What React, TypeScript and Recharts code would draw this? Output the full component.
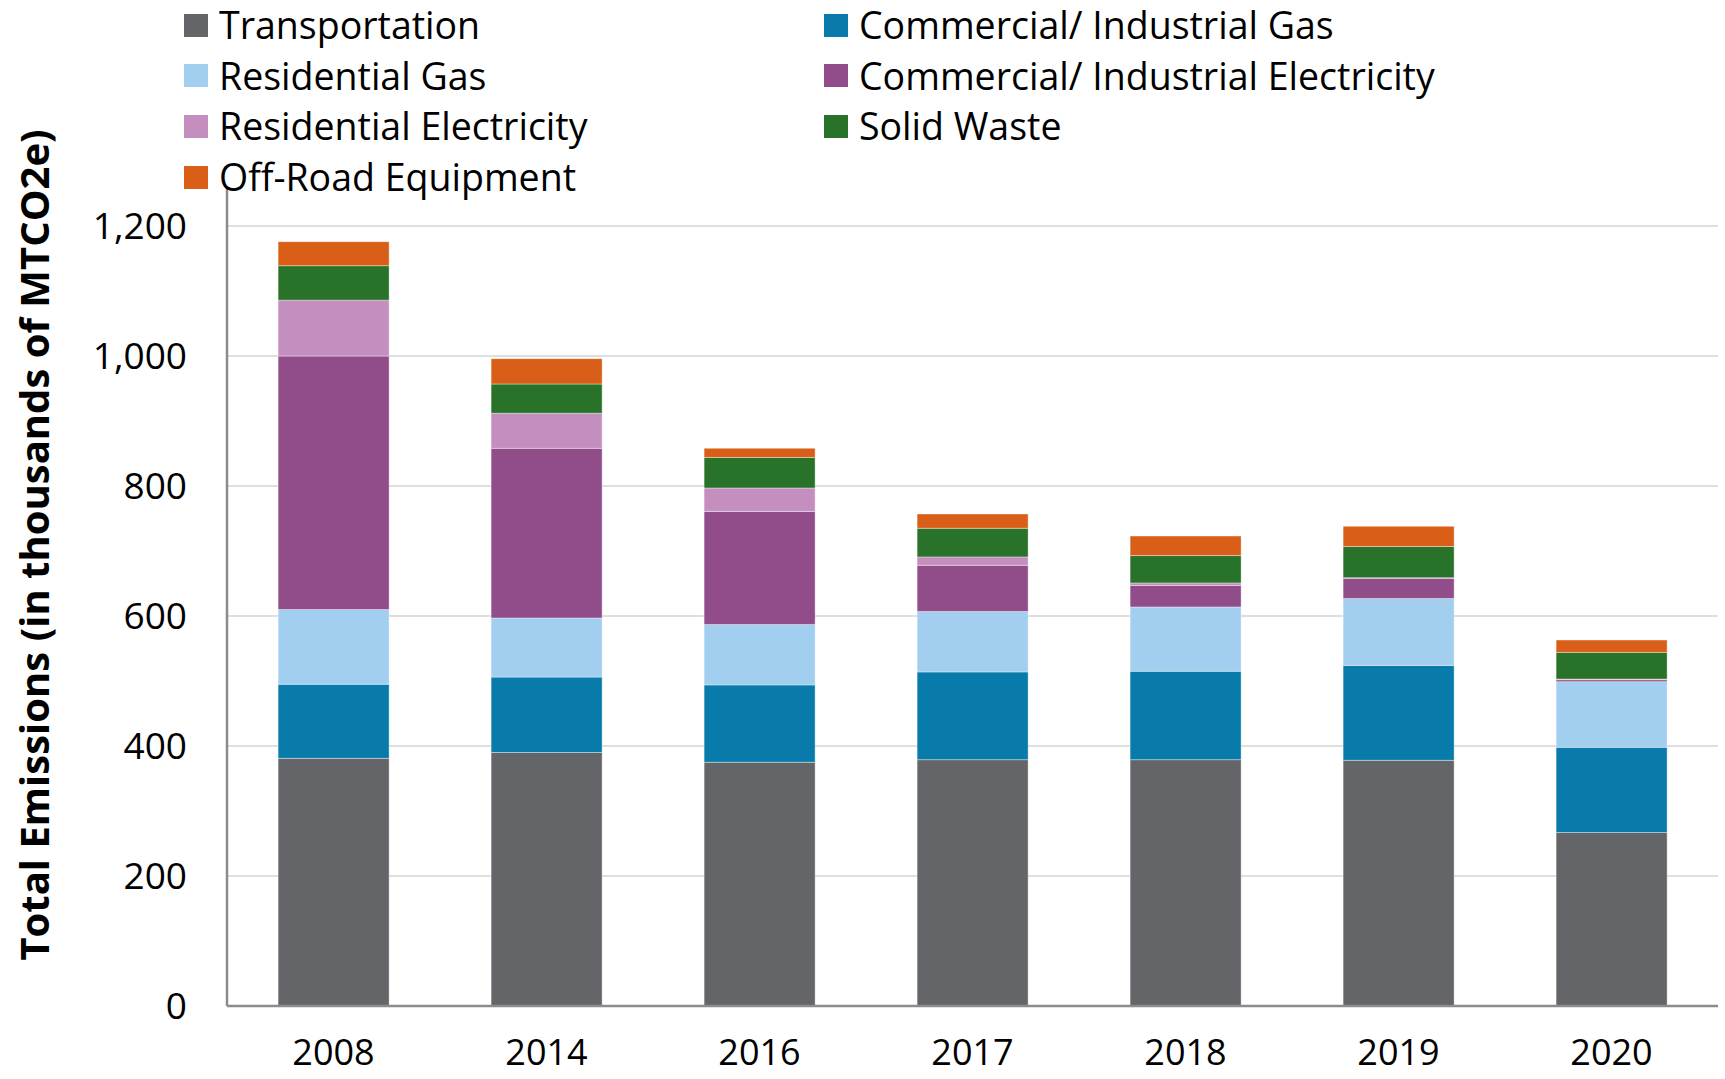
import React from 'react';
import { BarChart, Bar, XAxis, YAxis, CartesianGrid } from 'recharts';

const years = ['2008', '2014', '2016', '2017', '2018', '2019', '2020'];

const transportation = [381, 390, 375, 379, 379, 378, 267];
const commercialGas = [114, 116, 119, 135, 136, 146, 131];
const residentialGas = [115, 91, 93, 93, 99, 103, 101];
const commercialElec = [390, 261, 174, 71, 33, 31, 3];
const residentialElec = [86, 54, 36, 13, 4, 1, 1];
const solidWaste = [53, 45, 47, 44, 42, 48, 41];
const offRoad = [37, 39, 14, 22, 30, 31, 19];

const yTicks = [0, 200, 400, 600, 800, 1000, 1200];
const Y_MAX = 1257;

const series = [
  { key: 'transportation', name: 'Transportation', color: '#646569', values: transportation },
  { key: 'commercialGas', name: 'Commercial/ Industrial Gas', color: '#087BAB', values: commercialGas },
  { key: 'residentialGas', name: 'Residential Gas', color: '#A2CEF0', values: residentialGas },
  { key: 'commercialElec', name: 'Commercial/ Industrial Electricity', color: '#904D8A', values: commercialElec },
  { key: 'residentialElec', name: 'Residential Electricity', color: '#C48EBF', values: residentialElec },
  { key: 'solidWaste', name: 'Solid Waste', color: '#287229', values: solidWaste },
  { key: 'offRoad', name: 'Off-Road Equipment', color: '#D95F18', values: offRoad },
];

const data = years.map((year, i) => {
  const row: any = { year };
  series.forEach((s) => { row[s.key] = s.values[i]; });
  return row;
});

const FONT = '"Open Sans", sans-serif';

// gridlines only at the labelled ticks (no line at the top of the plot)
const gridRows = ({ offset }: any) => {
  const top = offset?.top ?? 189;
  const h = offset?.height ?? 817;
  return yTicks.map((t) => top + h * (1 - t / Y_MAX));
};

function LegendBlock() {
  return (
    <div style={{ position: 'absolute', left: 184, top: 0, display: 'grid', gridTemplateColumns: '640px 640px', rowGap: 0 }}>
      {series.map((s) => (
        <div key={s.key} style={{ display: 'flex', alignItems: 'center', height: 50.6, fontFamily: FONT, fontSize: 37.5, color: '#000', whiteSpace: 'nowrap' }}>
          <span style={{ display: 'inline-block', width: 24, height: 23, background: s.color, marginRight: 11 }} />
          <span style={{ lineHeight: '40px' }}>{s.name}</span>
        </div>
      ))}
    </div>
  );
}

export default function App() {
  return (
    <div style={{ position: 'absolute', left: 0, top: 0, width: 1725, height: 1079, background: '#fff' }}>
      <BarChart
        width={1725}
        height={1079}
        data={data}
        margin={{ top: 189, right: 7, left: 0, bottom: 0 }}
        barCategoryGap="24%"
      >
        <CartesianGrid
          vertical={false}
          stroke="#D4D4D4"
          strokeWidth={1.5}
          horizontalCoordinatesGenerator={gridRows}
        />
        <XAxis
          dataKey="year"
          height={73}
          axisLine={{ stroke: '#8C8C8C', strokeWidth: 2.5 }}
          tickLine={false}
          tickSize={0}
          tickMargin={33}
          tick={{ fontFamily: FONT, fontSize: 36, fill: '#000' }}
        />
        <YAxis
          width={227}
          domain={[0, Y_MAX]}
          ticks={yTicks}
          allowDataOverflow
          axisLine={{ stroke: '#8C8C8C', strokeWidth: 2.5 }}
          tickLine={false}
          tickSize={0}
          tickMargin={40}
          tickFormatter={(v: number) => v.toLocaleString('en-US')}
          tick={{ fontFamily: FONT, fontSize: 37, fill: '#000' }}
          label={() => (
            <text
              x={33}
              y={545}
              transform="rotate(-90 33 545)"
              textAnchor="middle"
              dominantBaseline="central"
              fontFamily={FONT}
              fontWeight={700}
              fontSize={40}
              fill="#000"
            >
              Total Emissions (in thousands of MTCO2e)
            </text>
          )}
        />
        {series.map((s) => (
          <Bar
            key={s.key}
            dataKey={s.key}
            name={s.name}
            stackId="a"
            fill={s.color}
            stroke="#ffffff"
            strokeOpacity={0.5}
            strokeWidth={0.75}
            isAnimationActive={false}
          />
        ))}
      </BarChart>
      <LegendBlock />
    </div>
  );
}
